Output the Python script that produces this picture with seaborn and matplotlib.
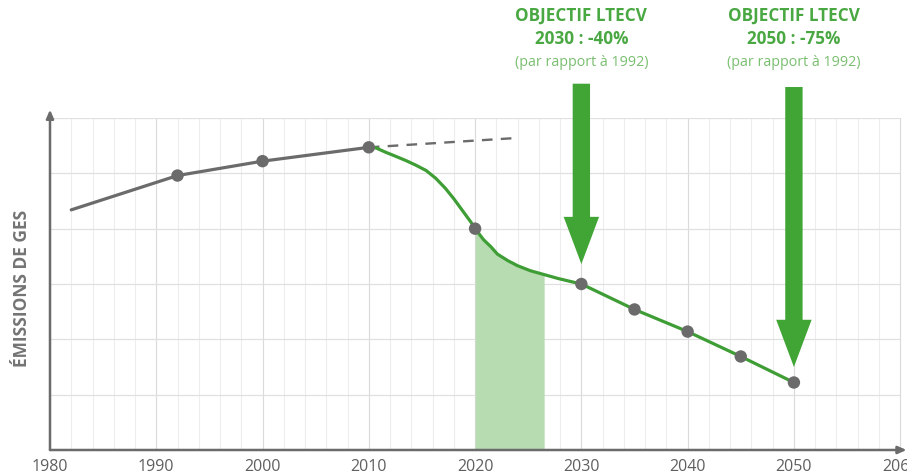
import numpy as np
import pandas as pd
import seaborn as sns
import matplotlib
matplotlib.use("Agg")
import matplotlib.pyplot as plt

# ---- data ----
hist_years = [1982, 1992, 2000, 2010]
hist_values = [4.34, 4.96, 5.22, 5.47]
hist_marker_years = [1992, 2000, 2010]
hist_marker_values = [4.96, 5.22, 5.47]

trend_years = [2010, 2024]
trend_values = [5.47, 5.64]

path_years = [2010, 2010.66, 2011.6, 2012.5, 2013.5, 2014.4, 2015.4, 2016.3, 2017.2,
              2018.0, 2018.8, 2019.6, 2020, 2020.8, 2021.5, 2022.1, 2023.1, 2024.0,
              2025.2, 2026.5, 2027.8, 2029.1, 2030, 2035, 2040, 2045, 2050]
path_values = [5.47, 5.46, 5.38, 5.31, 5.23, 5.15, 5.05, 4.91, 4.73,
               4.54, 4.33, 4.12, 4.00, 3.80, 3.67, 3.54, 3.42, 3.33,
               3.24, 3.17, 3.10, 3.04, 3.00, 2.54, 2.14, 1.69, 1.22]
path_marker_years = [2020, 2030, 2035, 2040, 2045, 2050]
path_marker_values = [4.00, 3.00, 2.54, 2.14, 1.69, 1.22]

shade_start, shade_end = 2020, 2026.5

targets = [2030, 2050]
target_titles = ["OBJECTIF LTECV", "OBJECTIF LTECV"]
target_values_txt = ["2030 : -40%", "2050 : -75%"]
target_notes = ["(par rapport à 1992)", "(par rapport à 1992)"]
arrow_tops = [6.62, 6.56]
arrow_tips = [3.36, 1.50]

xticks = [1980, 1990, 2000, 2010, 2020, 2030, 2040, 2050, 2060]
ylabel = "ÉMISSIONS DE GES"

# ---- style ----
sns.set_style("white")
plt.rcParams['font.family'] = ['Open Sans', 'DejaVu Sans']

GRAY = "#6b6b6b"
GREEN = "#3e9e35"
ARROW_GREEN = "#41a536"
SHADE = "#b8dcb1"
TXT_GREEN = "#4aa843"
NOTE_GREEN = "#79bf6f"

fig = plt.figure(figsize=(9.07, 4.77), dpi=100)
ax = fig.add_axes([50 / 907, 26 / 477, 855.5 / 907, 332 / 477])
ax.set_xlim(1980, 2060.5)
ax.set_ylim(0, 6)

# grid
for yr in range(1982, 2061, 2):
    c = "#dadada" if yr % 10 == 0 else "#ededed"
    ax.plot([yr, yr], [0, 6], color=c, lw=0.8, zorder=0)
for yv in range(1, 7):
    ax.plot([1980, 2060], [yv, yv], color="#e0e0e0", lw=0.9, zorder=0)

for s in ax.spines.values():
    s.set_visible(False)

# axes with arrows
ax.annotate("", xy=(1980, 6.15), xytext=(1980, 0),
            arrowprops=dict(arrowstyle="-|>,head_length=0.5,head_width=0.22", color=GRAY,
                            lw=1.8, shrinkA=0, shrinkB=0), annotation_clip=False, zorder=3)
ax.annotate("", xy=(2060.6, 0), xytext=(1980, 0),
            arrowprops=dict(arrowstyle="-|>,head_length=0.5,head_width=0.22", color=GRAY,
                            lw=1.8, shrinkA=0, shrinkB=0), annotation_clip=False, zorder=3)

# shaded area
path_df = pd.DataFrame({"year": path_years, "value": path_values})
mask = (path_df.year >= shade_start) & (path_df.year <= shade_end)
ax.fill_between(path_df.year[mask], 0, path_df.value[mask], color=SHADE, lw=0, zorder=1)

# lines
sns.lineplot(x=hist_years, y=hist_values, ax=ax, color=GRAY, lw=2.3, zorder=4,
             sort=False, estimator=None)
sns.lineplot(x=trend_years, y=trend_values, ax=ax, color=GRAY, lw=1.7, zorder=3,
             linestyle=(0, (4.5, 3.5)), sort=False, estimator=None)
sns.lineplot(data=path_df, x="year", y="value", ax=ax, color=GREEN, lw=2.3, zorder=4,
             sort=False, estimator=None)

# markers
sns.scatterplot(x=hist_marker_years + path_marker_years,
                y=hist_marker_values + path_marker_values,
                ax=ax, color=GRAY, s=80, edgecolor="none", zorder=6)

# target arrows and texts
for yr, top, tip, t1, t2, t3 in zip(targets, arrow_tops, arrow_tips, target_titles,
                                    target_values_txt, target_notes):
    ax.annotate("", xy=(yr, tip), xytext=(yr, top),
                arrowprops=dict(arrowstyle="simple,head_length=34,head_width=25.5,tail_width=12.5",
                                color=ARROW_GREEN, lw=0, mutation_scale=1,
                                shrinkA=0, shrinkB=0),
                annotation_clip=False, zorder=7)
    ax.text(yr, 7.87, t1, ha="center", va="center", fontsize=12.3, fontweight="bold",
            color=TXT_GREEN, clip_on=False)
    ax.text(yr, 7.45, t2, ha="center", va="center", fontsize=12.3, fontweight="bold",
            color=TXT_GREEN, clip_on=False)
    ax.text(yr, 7.03, t3, ha="center", va="center", fontsize=10.3,
            color=NOTE_GREEN, clip_on=False)

ax.set_xticks(xticks)
ax.set_xticklabels([str(x) for x in xticks])
ax.tick_params(axis="x", length=0, pad=6, labelsize=11.5, labelcolor="#5f5f5f")
ax.set_yticks([])
ax.set_xlabel("")
ax.set_ylabel("")

fig.text(22 / 907, (477 - 288) / 477, ylabel, rotation=90, ha="center", va="center",
         fontsize=12.5, fontweight="bold", color="#747474")

fig.savefig("out.png", dpi=100)
